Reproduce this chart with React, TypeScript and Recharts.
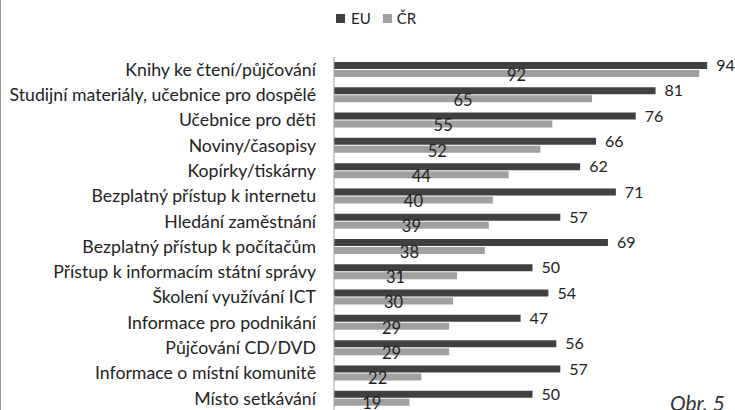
import React from 'react';
import { BarChart, Bar, XAxis, YAxis, LabelList } from 'recharts';

const categories = [
  'Knihy ke čtení/půjčování',
  'Studijní materiály, učebnice pro dospělé',
  'Učebnice pro děti',
  'Noviny/časopisy',
  'Kopírky/tiskárny',
  'Bezplatný přístup k internetu',
  'Hledání zaměstnání',
  'Bezplatný přístup k počítačům',
  'Přístup k informacím státní správy',
  'Školení využívání ICT',
  'Informace pro podnikání',
  'Půjčování CD/DVD',
  'Informace o místní komunitě',
  'Místo setkávání',
];
const euValues = [94, 81, 76, 66, 62, 71, 57, 69, 50, 54, 47, 56, 57, 50];
const crValues = [92, 65, 55, 52, 44, 40, 39, 38, 31, 30, 29, 29, 22, 19];
const seriesNames = ['EU', 'ČR'];

const data = categories.map((name, i) => ({ name, eu: euValues[i], cr: crValues[i] }));

const DARK = '#404040';
const LIGHT = '#a0a0a0';
const FONT = 'Lato, "Open Sans", sans-serif';

const CrLabel = (props: any) => {
  const { x, y, width, height, value } = props;
  return (
    <text x={x + width / 2} y={y + height / 2 + 3} textAnchor="middle" dominantBaseline="middle"
      fontSize={16.5} fill="#222" fontFamily={FONT}>{value}</text>
  );
};

export default function App() {
  return (
    <div style={{ position: 'absolute', left: 0, top: 0, width: 735, height: 410, overflow: 'hidden', background: '#fff', borderLeft: '1px solid #9a9a9a', boxSizing: 'border-box' }}>
      <div style={{ position: 'absolute', top: 9, left: 335, display: 'flex', alignItems: 'center', fontFamily: FONT, fontSize: 15, color: '#222' }}>
        <span style={{ width: 9, height: 9, background: DARK, display: 'inline-block', marginRight: 6 }} />
        <span style={{ marginRight: 12 }}>{seriesNames[0]}</span>
        <span style={{ width: 9, height: 9, background: LIGHT, display: 'inline-block', marginRight: 5 }} />
        <span>{seriesNames[1]}</span>
      </div>
      <BarChart layout="vertical" width={734} height={411} data={data}
        margin={{ top: 57, right: 4, bottom: 0, left: 0 }} barSize={7} barGap={1}>
        <XAxis type="number" domain={[0, 100]} hide />
        <YAxis type="category" dataKey="name" width={333} tickLine={false} tickSize={0} tickMargin={18}
          axisLine={{ stroke: '#a0a0a0' }} interval={0}
          tick={{ fontSize: 17.7, fill: '#222', fontFamily: FONT }} />
        <Bar dataKey="eu" fill={DARK} isAnimationActive={false}>
          <LabelList dataKey="eu" position="right" offset={9} fontSize={16} fill="#222" fontFamily={FONT} />
        </Bar>
        <Bar dataKey="cr" fill={LIGHT} isAnimationActive={false}>
          <LabelList dataKey="cr" content={<CrLabel />} />
        </Bar>
      </BarChart>
      <svg style={{ position: 'absolute', left: 0, top: 0 }} width={735} height={410}>
        <text x={669} y={411} fontFamily={FONT} fontStyle="italic" fontSize={21} fill="#333">Obr. 5</text>
      </svg>
    </div>
  );
}
